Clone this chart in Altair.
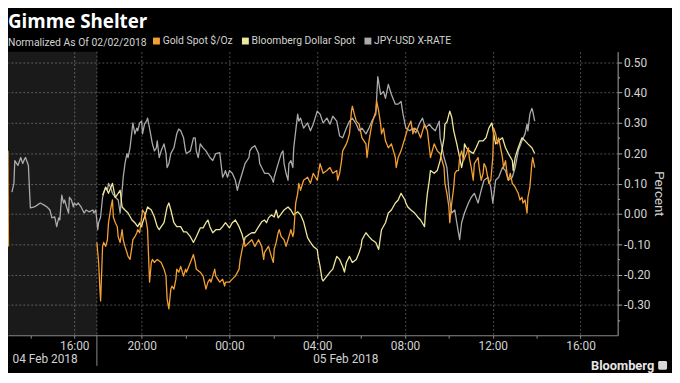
import altair as alt
import pandas as pd

# ---------------- text ----------------
TITLE = "Gimme Shelter"
SUBTITLE = "Normalized As Of 02/02/2018"
SERIES = ["Gold Spot $/Oz", "Bloomberg Dollar Spot", "JPY-USD X-RATE"]
COLORS = ["#f5a035", "#efe89c", "#ababab"]
DATE_LABELS = ["04 Feb 2018", "05 Feb 2018"]
DATE_POS = [-8.4, 5.3]
BRAND = "Bloomberg"

# ---------------- data: (hours from 00:00 05 Feb, percent) ----------------
jpy = [(-9.91,0.072),(-9.82,0.101),(-9.78,0.176),(-9.64,0.160),(-9.51,0.186),(-9.42,0.166),(-9.33,0.182),(-9.29,0.186),(-9.16,0.160),(-9.11,0.078),(-9.07,0.020),(-8.89,0.023),(-8.76,0.029),(-8.62,0.036),(-8.44,0.029),(-8.31,0.023),(-8.18,0.013),(-8.09,-0.013),(-7.96,-0.010),(-7.87,-0.042),(-7.78,-0.013),(-7.73,-0.020),(-7.64,0.062),(-7.56,0.036),(-7.51,0.046),(-7.42,0.023),(-7.33,0.003),(-7.29,0.055),(-7.20,0.046),(-7.11,0.023),(-7.07,0.036),(-6.98,0.029),(-6.89,0.036),(-6.76,0.023),(-6.62,0.003),(-6.53,0.013),(-6.40,0.007),(-6.22,0.013),(-6.18,0.003),(-6.09,0.013),
       (-6.00,-0.052),(-5.96,-0.029),(-5.87,-0.010),(-5.78,0.055),(-5.73,0.068),(-5.64,0.088),(-5.56,0.078),(-5.51,0.101),(-5.42,0.088),(-5.33,0.068),(-5.20,0.055),(-5.07,0.046),(-4.98,0.003),(-4.89,0.078),(-4.84,0.121),(-4.76,0.166),(-4.67,0.199),(-4.62,0.186),(-4.53,0.218),(-4.44,0.274),(-4.40,0.300),(-4.31,0.264),(-4.22,0.283),(-4.18,0.274),(-4.09,0.300),(-4.00,0.306),(-3.96,0.264),(-3.87,0.296),(-3.78,0.306),(-3.73,0.316),(-3.64,0.283),(-3.56,0.251),(-3.51,0.231),(-3.42,0.208),(-3.33,0.218),(-3.29,0.241),(-3.20,0.186),(-3.11,0.208),(-2.98,0.231),(-2.89,0.199),(-2.84,0.153),(-2.76,0.166),(-2.67,0.199),(-2.53,0.218),(-2.40,0.264),(-2.31,0.280),(-2.22,0.274),(-2.09,0.251),(-2.00,0.208),(-1.96,0.199),(-1.78,0.208),(-1.64,0.251),(-1.56,0.251),(-1.51,0.208),(-1.42,0.186),(-1.33,0.231),(-1.20,0.218),(-1.07,0.208),(-0.89,0.186),(-0.76,0.176),(-0.62,0.199),(-0.44,0.202),(-0.40,0.176),(-0.31,0.121),(-0.22,0.134),(-0.18,0.143),(-0.09,0.121),(0.00,0.143),(0.13,0.134),(0.27,0.111),(0.36,0.078),(0.44,0.101),(0.58,0.134),(0.71,0.166),(0.89,0.186),(0.93,0.208),(1.02,0.218),(1.16,0.225),(1.33,0.199),(1.38,0.166),(1.47,0.153),(1.60,0.134),(1.78,0.134),(1.91,0.121),(2.00,0.104),(2.04,0.121),(2.22,0.166),(2.36,0.199),(2.44,0.208),(2.49,0.166),(2.58,0.134),(2.67,0.111),(2.71,0.166),(2.80,0.176),(2.89,0.153),(2.93,0.218),(3.02,0.274),(3.11,0.329),(3.16,0.306),(3.24,0.316),(3.38,0.283),(3.56,0.300),(3.69,0.274),(3.82,0.296),(4.00,0.339),(4.13,0.329),(4.27,0.300),(4.44,0.316),(4.58,0.296),(4.71,0.322),(4.89,0.306),(5.02,0.257),(5.16,0.251),(5.33,0.283),(5.47,0.306),(5.60,0.316),(5.78,0.296),(5.91,0.274),(6.04,0.283),(6.22,0.264),(6.36,0.283),(6.49,0.306),(6.67,0.329),(6.76,0.453),(6.89,0.394),(7.02,0.404),(7.11,0.381),(7.24,0.427),(7.38,0.394),(7.56,0.362),(7.69,0.362),(7.82,0.371),(7.91,0.329),(8.04,0.283),(8.22,0.274),(8.36,0.283),(8.49,0.267),(8.67,0.300),(8.80,0.316),(8.93,0.283),(9.11,0.296),(9.24,0.283),(9.38,0.274),(9.56,0.306),(9.60,0.251),(9.78,0.186),(9.91,0.153),(10.04,0.046),(10.13,0.003),(10.27,0.013),(10.36,-0.029),(10.49,-0.085),(10.58,-0.029),(10.71,0.003),(10.89,0.036),(11.02,0.055),(11.16,0.068),(11.33,0.036),(11.47,0.078),(11.60,0.111),(11.78,0.121),(11.91,0.088),(12.00,0.036),(12.13,0.111),(12.27,0.121),(12.44,0.153),(12.58,0.143),(12.71,0.111),(12.89,0.121),(13.02,0.153),(13.16,0.208),(13.33,0.241),(13.47,0.264),(13.56,0.296),(13.60,0.274),(13.69,0.329),(13.78,0.348),(13.82,0.339),(13.91,0.306)]

gold_pre = [(-10.09,0.208),(-10.07,-0.107)]

gold = [(-6.04,-0.094),(-5.96,-0.160),(-5.91,-0.238),(-5.87,-0.287),(-5.78,-0.107),(-5.73,-0.094),(-5.64,-0.107),(-5.56,-0.085),(-5.51,-0.029),(-5.42,0.013),(-5.33,0.046),(-5.29,-0.010),(-5.20,-0.029),(-5.11,-0.042),(-5.07,-0.075),(-4.98,-0.094),(-4.89,-0.052),(-4.84,-0.085),(-4.76,-0.107),(-4.67,-0.127),(-4.62,-0.140),(-4.53,-0.150),(-4.44,-0.107),(-4.40,-0.085),(-4.31,-0.075),(-4.22,-0.062),(-4.18,-0.052),(-4.09,-0.062),(-4.00,-0.010),(-3.96,0.013),(-3.87,0.003),(-3.78,-0.029),(-3.73,-0.052),(-3.64,-0.225),(-3.56,-0.160),(-3.51,-0.150),(-3.42,-0.160),(-3.29,-0.150),(-3.11,-0.160),(-2.98,-0.182),(-2.89,-0.205),(-2.84,-0.280),(-2.76,-0.313),(-2.67,-0.248),(-2.62,-0.238),(-2.53,-0.248),(-2.44,-0.215),(-2.40,-0.182),(-2.31,-0.192),(-2.22,-0.173),(-2.09,-0.205),(-2.00,-0.182),(-1.96,-0.192),(-1.78,-0.160),(-1.64,-0.134),(-1.56,-0.160),(-1.51,-0.182),(-1.33,-0.192),(-1.20,-0.205),(-1.07,-0.248),(-0.98,-0.225),(-0.89,-0.215),(-0.84,-0.225),(-0.76,-0.205),(-0.67,-0.182),(-0.62,-0.205),(-0.44,-0.225),(-0.31,-0.215),(-0.22,-0.238),(-0.18,-0.225),(0.00,-0.225),(0.13,-0.215),(0.27,-0.205),(0.44,-0.182),(0.49,-0.150),(0.58,-0.117),(0.67,-0.085),(0.71,-0.107),(0.89,-0.094),(1.02,-0.085),(1.16,-0.107),(1.33,-0.085),(1.47,-0.107),(1.56,-0.150),(1.60,-0.127),(1.78,-0.107),(1.82,-0.117),(1.91,-0.140),(2.00,-0.160),(2.04,-0.117),(2.13,-0.094),(2.22,-0.062),(2.27,-0.052),(2.36,-0.075),(2.49,-0.085),(2.58,-0.107),(2.67,-0.085),(2.71,-0.075),(2.80,-0.052),(2.89,-0.075),(2.93,-0.062),(3.02,0.036),(3.11,0.068),(3.16,0.101),(3.24,0.078),(3.38,0.111),(3.56,0.121),(3.69,0.101),(3.82,0.134),(4.00,0.111),(4.13,0.166),(4.27,0.134),(4.44,0.143),(4.58,0.153),(4.71,0.134),(4.89,0.143),(4.93,0.111),(5.02,0.134),(5.11,0.176),(5.16,0.208),(5.33,0.231),(5.38,0.241),(5.47,0.264),(5.56,0.339),(5.60,0.355),(5.69,0.329),(5.78,0.306),(5.91,0.296),(6.04,0.251),(6.22,0.231),(6.27,0.186),(6.36,0.241),(6.49,0.296),(6.67,0.339),(6.71,0.371),(6.80,0.339),(6.89,0.296),(6.93,0.264),(7.02,0.283),(7.11,0.241),(7.24,0.218),(7.38,0.231),(7.56,0.186),(7.60,0.153),(7.69,0.186),(7.82,0.208),(8.00,0.251),(8.13,0.283),(8.27,0.306),(8.36,0.264),(8.44,0.283),(8.58,0.274),(8.71,0.251),(8.89,0.296),(9.02,0.274),(9.11,0.218),(9.16,0.186),(9.33,0.231),(9.47,0.208),(9.60,0.199),(9.78,0.153),(9.82,0.101),(9.91,0.068),(10.00,0.023),(10.04,-0.029),(10.13,0.036),(10.22,0.088),(10.27,0.134),(10.36,0.143),(10.44,0.143),(10.49,0.186),(10.58,0.208),(10.67,0.176),(10.80,0.199),(10.89,0.218),(10.93,0.186),(11.02,0.153),(11.11,0.111),(11.16,0.166),(11.33,0.186),(11.38,0.153),(11.47,0.111),(11.56,0.134),(11.60,0.166),(11.69,0.153),(11.82,0.101),(11.91,0.111),(12.00,0.186),(12.04,0.283),(12.13,0.264),(12.22,0.231),(12.27,0.251),(12.44,0.186),(12.49,0.153),(12.58,0.176),(12.67,0.121),(12.71,0.111),(12.80,0.134),(12.89,0.101),(13.02,0.088),(13.16,0.068),(13.24,0.046),(13.33,0.055),(13.38,0.036),(13.47,0.046),(13.56,0.003),(13.60,0.055),(13.69,0.088),(13.78,0.166),(13.82,0.186),(13.91,0.153)]

dollar = [(-5.78,0.062),(-5.64,0.088),(-5.51,0.068),(-5.33,0.101),(-5.20,0.055),(-5.07,0.068),(-4.98,0.078),(-4.89,0.023),(-4.76,0.013),(-4.62,0.003),(-4.44,-0.020),(-4.31,-0.029),(-4.18,-0.042),(-4.09,-0.029),(-4.00,-0.042),(-3.96,-0.029),(-3.87,-0.010),(-3.73,0.023),(-3.56,0.013),(-3.42,-0.010),(-3.29,-0.042),(-3.20,-0.052),(-3.11,-0.042),(-2.98,-0.029),(-2.84,0.023),(-2.76,0.036),(-2.67,0.013),(-2.53,-0.029),(-2.40,-0.042),(-2.22,-0.042),(-2.09,-0.059),(-1.96,-0.059),(-1.78,-0.075),(-1.64,-0.094),(-1.51,-0.075),(-1.33,-0.046),(-1.20,-0.046),(-1.07,-0.029),(-0.98,-0.020),(-0.89,-0.042),(-0.76,-0.062),(-0.62,-0.052),(-0.44,-0.052),(-0.31,-0.042),(-0.18,-0.029),(0.00,-0.046),(0.13,-0.029),(0.27,-0.020),(0.44,-0.042),(0.58,-0.068),(0.67,-0.094),(0.71,-0.078),(0.89,-0.068),(1.02,-0.062),(1.16,-0.062),(1.33,-0.042),(1.47,-0.026),(1.60,-0.020),(1.69,-0.029),(1.78,-0.013),(1.91,-0.003),(2.04,-0.010),(2.13,0.013),(2.22,-0.013),(2.36,0.000),(2.49,0.013),(2.67,0.023),(2.80,0.013),(2.93,-0.003),(3.11,0.007),(3.24,-0.003),(3.38,-0.026),(3.56,-0.078),(3.69,-0.094),(3.82,-0.107),(4.00,-0.117),(4.04,-0.140),(4.13,-0.173),(4.22,-0.215),(4.27,-0.221),(4.44,-0.205),(4.58,-0.192),(4.71,-0.182),(4.80,-0.160),(4.89,-0.140),(5.02,-0.150),(5.16,-0.173),(5.24,-0.192),(5.33,-0.160),(5.47,-0.140),(5.60,-0.160),(5.78,-0.150),(5.91,-0.127),(6.00,-0.107),(6.04,-0.085),(6.22,-0.062),(6.36,-0.075),(6.49,-0.085),(6.67,-0.094),(6.80,-0.117),(6.93,-0.052),(7.11,-0.029),(7.24,0.003),(7.38,0.013),(7.56,0.036),(7.69,0.046),(7.82,0.068),(8.00,0.046),(8.04,0.036),(8.13,0.023),(8.27,0.013),(8.44,0.003),(8.58,-0.010),(8.71,-0.020),(8.89,-0.042),(8.93,0.003),(9.02,0.068),(9.11,0.111),(9.16,0.143),(9.33,0.134),(9.47,0.143),(9.60,0.176),(9.78,0.251),(9.82,0.296),(9.91,0.303),(10.04,0.339),(10.13,0.319),(10.22,0.274),(10.36,0.231),(10.49,0.186),(10.58,0.153),(10.67,0.186),(10.71,0.231),(10.80,0.218),(10.93,0.208),(11.11,0.199),(11.24,0.218),(11.38,0.241),(11.56,0.241),(11.69,0.251),(11.82,0.283),(11.96,0.300),(12.04,0.264),(12.13,0.231),(12.27,0.241),(12.44,0.251),(12.58,0.218),(12.71,0.199),(12.89,0.176),(12.93,0.143),(13.02,0.186),(13.16,0.218),(13.33,0.251),(13.47,0.241),(13.60,0.231),(13.78,0.218),(13.91,0.199)]

PRE_OPEN = [-10.09, -6.04]          # shaded pre-open window (hours)
X_DOMAIN = [-10.09, 17.69]
Y_DOMAIN = [-0.40, 0.535]
X_TICKS = [-9.07, -7.07, -4, -2, 0, 2, 4, 6, 8, 10, 12, 14, 16]
Y_TICKS = [-0.35, -0.30, -0.25, -0.20, -0.15, -0.10, -0.05, 0.0, 0.05, 0.10,
           0.15, 0.20, 0.25, 0.30, 0.35, 0.40, 0.45, 0.50]

# ---------------- build table ----------------
rows = []
for name, seg, pts in [(SERIES[2], "jpy", jpy), (SERIES[1], "usd", dollar),
                       (SERIES[0], "gold_pre", gold_pre), (SERIES[0], "gold", gold)]:
    for t, v in pts:
        rows.append({"t": t, "v": v, "series": name, "seg": seg})
df = pd.DataFrame(rows)

W, H = 617, 287
FONT = "Roboto"
LBL = "#d2d2d2"
GRID = "#4e4e4e"

MAJOR_X = "(datum.value > -8 && datum.value < -6.5) || (datum.value > -6 && abs(round(datum.value)) % 4 == 0)"
X_LABEL = ("datum.value < -8 ? '' : datum.value < -6.5 ? '16:00' : "
           "abs(round(datum.value)) % 4 != 0 ? '' : "
           "(((round(datum.value) + 24) % 24) < 10 ? '0' : '') + ((round(datum.value) + 24) % 24) + ':00'")
MAJOR_Y = "abs(round(datum.value * 100)) % 10 == 0"
Y_LABEL = ("abs(round(datum.value * 100)) % 10 != 0 ? '' : "
           "(datum.value < -0.001 ? '-' : '') + format(abs(datum.value), '.2f')")

x_axis = alt.Axis(
    values=X_TICKS, title=None, labelExpr=X_LABEL, labelFont=FONT, labelFontSize=12,
    labelColor=LBL, labelPadding=2, labelFlush=False, labelOverlap=False,
    domainColor="#8a8a8a", tickColor="#8a8a8a", tickSize=3,
    grid=True, gridColor=GRID, gridDash=[2, 2],
    gridOpacity={"condition": {"test": MAJOR_X, "value": 1}, "value": 0},
)
y_axis = alt.Axis(
    orient="right", values=Y_TICKS, title="Percent", titleAngle=90, titleFont=FONT,
    titleFontSize=13.5, titleFontWeight="normal", titleColor=LBL, titlePadding=2,
    labelExpr=Y_LABEL, labelFont=FONT, labelFontSize=12, labelColor=LBL, labelPadding=2,
    labelOverlap=False,
    domainColor="#a8a8a8", tickColor="#a8a8a8",
    tickSize={"condition": {"test": MAJOR_Y, "value": 4}, "value": 2},
    grid=True, gridColor=GRID, gridDash=[2, 2],
    gridOpacity={"condition": {"test": MAJOR_Y, "value": 1}, "value": 0},
)

xs = alt.Scale(domain=X_DOMAIN, nice=False, zero=False)
ys = alt.Scale(domain=Y_DOMAIN, nice=False, zero=False)
cs = alt.Scale(domain=SERIES, range=COLORS)

legend = alt.Legend(
    title=SUBTITLE, orient="none", legendX=0, legendY=-16, direction="horizontal",
    titleOrient="left", titleFont=FONT, titleFontSize=10.5, titleFontWeight="normal",
    titleColor=LBL, titlePadding=4, titleBaseline="middle",
    symbolType="square", symbolSize=12, symbolStrokeWidth=3.5,
    labelFont=FONT, labelFontSize=10.5, labelColor=LBL, labelOffset=1, columnPadding=3,
)


def X(field):
    return alt.X(field, scale=xs, axis=x_axis)


def Y(field):
    return alt.Y(field, scale=ys, axis=y_axis)


shade = alt.Chart(pd.DataFrame({"start": [PRE_OPEN[0]], "end": [PRE_OPEN[1]]})).mark_rect(
    color="#ffffff", opacity=0.1
).encode(x=X("start:Q"), x2="end:Q", y=alt.value(0), y2=alt.value(H))

sep = pd.DataFrame({"t": [PRE_OPEN[1]]})
sep_in = alt.Chart(sep).mark_rule(color="#5a5a5a", strokeDash=[2, 2]).encode(
    x=X("t:Q"), y=alt.value(0), y2=alt.value(H))
sep_out = alt.Chart(sep).mark_rule(color="#8a8a8a").encode(
    x=X("t:Q"), y=alt.value(H), y2=alt.value(H + 31))


def line(name, with_legend):
    return alt.Chart(df).transform_filter(alt.datum.series == name).mark_line(
        strokeWidth=1.3, strokeJoin="round"
    ).encode(
        x=X("t:Q"),
        y=Y("v:Q"),
        color=alt.Color("series:N", scale=cs, legend=legend if with_legend else None),
        detail="seg:N",
        order="t:Q",
    )


grey_line = line(SERIES[2], True)
usd_line = line(SERIES[1], False)
gold_line = line(SERIES[0], False)

dates = alt.Chart(pd.DataFrame({"t": DATE_POS, "label": DATE_LABELS})).mark_text(
    font=FONT, fontSize=12, color=LBL, baseline="middle", align="center"
).encode(x=X("t:Q"), y=alt.value(H + 24), text="label:N")

title = alt.Chart(pd.DataFrame({"label": [TITLE]})).mark_text(
    font="Open Sans", fontSize=19, fontWeight="bold", color="#ffffff",
    align="left", baseline="alphabetic"
).encode(x=alt.value(0), y=alt.value(-24), text="label:N")

brand = alt.Chart(pd.DataFrame({"label": [BRAND]})).mark_text(
    font=FONT, fontSize=13, fontWeight="bold", color="#e6e6e6",
    align="right", baseline="alphabetic"
).encode(x=alt.value(W + 37), y=alt.value(H + 35), text="label:N")

logo = alt.Chart(pd.DataFrame({"label": [BRAND]})).mark_rect(
    color="#d8d8d8", cornerRadius=1.5
).encode(x=alt.value(W + 41), x2=alt.value(W + 50), y=alt.value(H + 26), y2=alt.value(H + 35))

chart = alt.layer(
    shade, sep_in, sep_out, grey_line, usd_line, gold_line, dates, title, brand, logo
).properties(
    width=W, height=H, background="#000000",
    padding={"left": 0, "top": 42, "right": 55, "bottom": 36},
    autosize=alt.AutoSizeParams(type="none"),
).configure_view(strokeWidth=0)

chart.save("out.html", embed_options={"renderer": "svg", "actions": False})
